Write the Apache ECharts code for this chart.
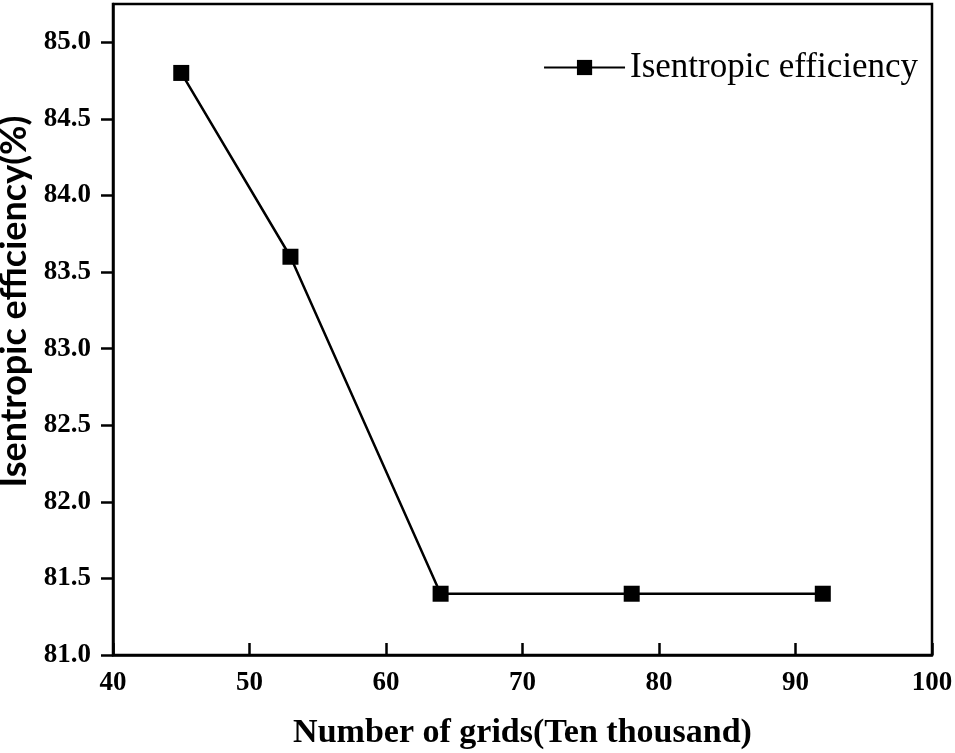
<!DOCTYPE html>
<html><head><meta charset="utf-8">
<script src="https://cdn.jsdelivr.net/npm/echarts@6/dist/echarts.min.js"></script>
<style>html,body{margin:0;padding:0;background:#fff}#c{width:955px;height:753px}</style>
</head><body><div id="c"></div>
<script>
const seriesName = 'Isentropic efficiency';
const xValues = [45, 53, 64, 78, 92];
const yValues = [84.8, 83.6, 81.4, 81.4, 81.4];
const yTicks = [81.0, 81.5, 82.0, 82.5, 83.0, 83.5, 84.0, 84.5, 85.0];
const xTitle = 'Number of grids(Ten thousand)';
const yTitle = 'Isentropic efficiency(%)';

const chart = echarts.init(document.getElementById('c'));
const labelFont = {fontFamily: '"Liberation Serif", serif', fontWeight: 'bold', fontSize: 27, color: '#000'};
chart.setOption({
  animation: false,
  grid: {left: 113, top: 4, right: 23, bottom: 98, show: true, borderColor: '#000', borderWidth: 2.5,
         containLabel: false, outerBoundsMode: 'none'},
  legend: {
    data: [seriesName], right: 32, top: 45,
    itemWidth: 81, itemHeight: 19, itemGap: 8,
    textStyle: {fontFamily: '"Liberation Serif", serif', fontSize: 35, color: '#000'}
  },
  xAxis: {
    type: 'value', min: 40, max: 100, interval: 10,
    name: xTitle, nameLocation: 'middle', nameGap: 61,
    nameTextStyle: Object.assign({}, labelFont, {fontSize: 34}),
    axisLine: {lineStyle: {color: '#000', width: 2.5}},
    axisTick: {inside: true, length: 12, lineStyle: {color: '#000', width: 2.5}},
    axisLabel: Object.assign({}, labelFont, {margin: 15}),
    splitLine: {show: false}
  },
  yAxis: {
    type: 'value', min: 81.0, max: 85.25,
    name: yTitle, nameLocation: 'middle', nameGap: 71, nameRotate: 90,
    nameTextStyle: {fontFamily: 'Lato, "Liberation Sans", sans-serif', fontWeight: 'bold', fontSize: 36, color: '#000', padding: [0, 0, 0, 56]},
    axisLine: {lineStyle: {color: '#000', width: 2.5}},
    axisTick: {length: 12, customValues: yTicks, lineStyle: {color: '#000', width: 2.5}},
    axisLabel: Object.assign({}, labelFont, {margin: 22, customValues: yTicks, formatter: v => v.toFixed(1)}),
    splitLine: {show: false}
  },
  series: [{
    name: seriesName, type: 'line',
    data: xValues.map((x, i) => [x, yValues[i]]),
    symbol: 'rect', symbolSize: 16,
    lineStyle: {color: '#000', width: 2.5},
    itemStyle: {color: '#000'}
  }]
});
</script></body></html>
